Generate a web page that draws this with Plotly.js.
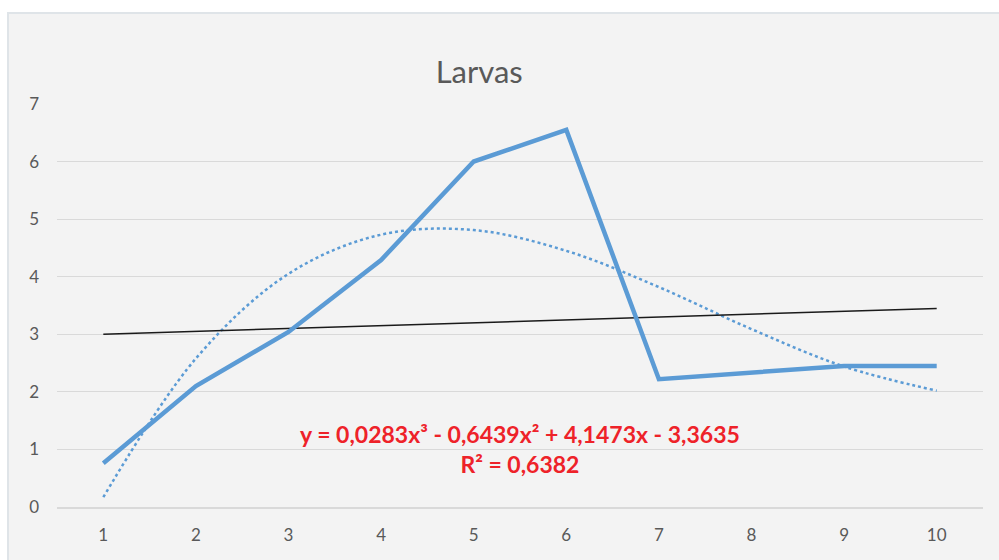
<!DOCTYPE html>
<html>
<head>
<meta charset="utf-8">
<script src="https://cdn.plot.ly/plotly-3.0.1.min.js"></script>
<style>
  html, body { margin: 0; padding: 0; background: #ffffff; width: 999px; height: 560px; overflow: hidden; }
  #frame { position: absolute; left: 7px; top: 12px; width: 992px; height: 548px;
           border-left: 2px solid #dfe4e8; border-top: 2px solid #dfe4e8; box-sizing: border-box; background: #f3f3f3; }
  #chart { width: 990px; height: 546px; }
</style>
</head>
<body>
<div id="frame"><div id="chart"></div></div>
<script>
// Data
const categories = ["1", "2", "3", "4", "5", "6", "7", "8", "9", "10"];
const larvas = [0.76, 2.1, 3.04, 4.29, 6.0, 6.55, 2.22, 2.34, 2.45, 2.45];
// dotted polynomial trendline, read at each category
const polyTrend = [0.17, 2.58, 4.05, 4.73, 4.81, 4.45, 3.82, 3.09, 2.44, 2.02];
// straight black line (endpoints)
const lineX = ["1", "10"];
const lineY = [3.0, 3.45];
const titleText = "Larvas";
const equationText = "y = 0,0283x³ - 0,6439x² + 4,1473x - 3,3635<br>R² = 0,6382";

const traces = [
  {
    x: categories, y: polyTrend, type: "scatter", mode: "lines",
    line: { color: "#5b9bd5", width: 2.5, dash: "dot", shape: "spline" },
    hoverinfo: "skip", showlegend: false
  },
  {
    x: lineX, y: lineY, type: "scatter", mode: "lines",
    line: { color: "#1a1a1a", width: 1.5 },
    hoverinfo: "skip", showlegend: false
  },
  {
    x: categories, y: larvas, type: "scatter", mode: "lines",
    line: { color: "#5b9bd5", width: 4.5 },
    showlegend: false
  }
];

const layout = {
  width: 990, height: 546,
  paper_bgcolor: "#f3f3f3",
  plot_bgcolor: "#f3f3f3",
  margin: { l: 48, r: 16, t: 90, b: 53 },
  font: { family: "Lato, 'Open Sans', sans-serif", color: "#595959", size: 17 },
  title: {
    text: titleText,
    font: { family: "Lato, 'Open Sans', sans-serif", size: 31, color: "#595959" },
    x: 0.456, xanchor: "center", xref: "paper",
    y: 0.894, yanchor: "middle", yref: "container"
  },
  xaxis: {
    type: "category",
    range: [-0.5, 9.5],
    showgrid: false,
    showline: true, linecolor: "#d9d9d9", linewidth: 1.5,
    ticks: "", ticklabelstandoff: 12,
    zeroline: false,
    tickfont: { size: 17, color: "#595959" }
  },
  yaxis: {
    range: [0, 7],
    dtick: 1, tick0: 0,
    showgrid: true, gridcolor: "#d9d9d9", gridwidth: 1,
    zeroline: false, showline: false,
    ticks: "", ticklabelstandoff: 17,
    tickfont: { size: 17, color: "#595959" }
  },
  annotations: [
    {
      text: equationText,
      xref: "paper", yref: "paper",
      x: 0.5, y: 0.144, xanchor: "center", yanchor: "middle",
      showarrow: false, align: "center",
      font: { family: "Lato, 'Open Sans', sans-serif", size: 23, color: "#ee2229", weight: "bold" }
    }
  ]
};

Plotly.newPlot("chart", traces, layout, { displayModeBar: false, staticPlot: true });
</script>
</body>
</html>
